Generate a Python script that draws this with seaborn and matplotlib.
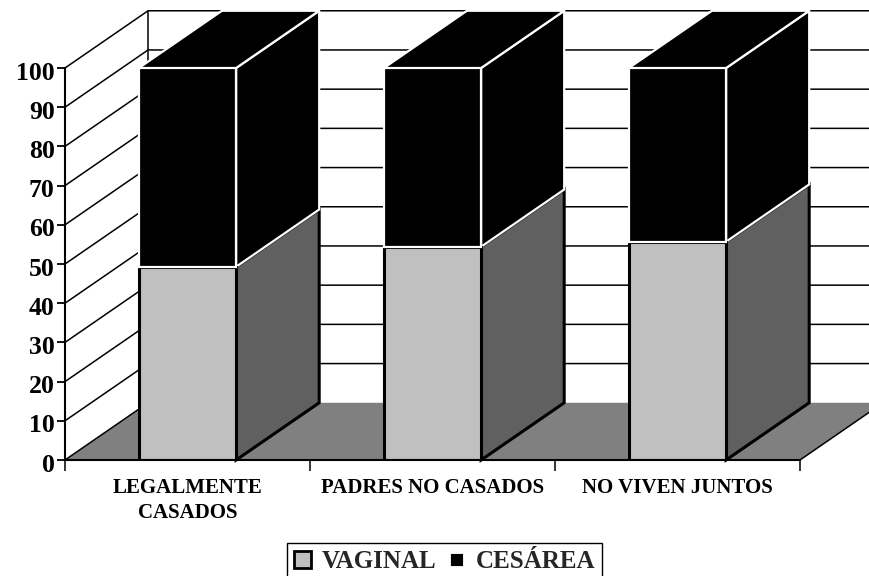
#! /usr/bin/python3

import pandas as pd
import matplotlib as mpl
mpl.use("Agg")
from matplotlib import pyplot as plt
from matplotlib.patches import Patch
from matplotlib.transforms import ScaledTranslation
import seaborn as sns

categories = ["LEGALMENTE\nCASADOS", "PADRES NO CASADOS", "NO VIVEN JUNTOS"]
vaginal = [49.3, 54.4, 55.7]
cesarea = [50.7, 45.6, 44.3]
y_ticks = [0, 10, 20, 30, 40, 50, 60, 70, 80, 90, 100]

# oblique depth of the fake 3D box, in data units
DX = 0.339
DY = 14.6
BAR_W = 0.397

GRAY_FLOOR = "#808080"
GRAY_SIDE = "#606060"
GRAY_FRONT = "#C0C0C0"

sns.set_theme(style="white")
plt.rcParams["font.family"] = ["Liberation Serif", "DejaVu Serif"]
plt.rcParams["font.weight"] = "bold"

W, H = 870, 576
fig = plt.figure(figsize=(W / 100, H / 100), dpi=100)
ax = fig.add_axes([65 / W, 1 - 460 / H, 735 / W, 392 / H])

df = pd.DataFrame({"cat": categories, "vaginal": vaginal, "cesarea": cesarea})

sns.barplot(data=df, x="cat", y="vaginal", color=GRAY_FRONT, saturation=1,
            width=BAR_W, edgecolor="black", linewidth=2.2, zorder=5, ax=ax)
sns.barplot(data=df, x="cat", y="cesarea", bottom=df["vaginal"], color="black", saturation=1,
            width=BAR_W, edgecolor="white", linewidth=1.6, zorder=5, ax=ax)

ax.set_xlim(-0.5, 2.5)
ax.set_ylim(0, 100)
ax.set_xlabel("")
ax.set_ylabel("")

# floor and back wall
ax.fill([-0.5, 2.5, 2.5 + DX, -0.5 + DX], [0, 0, DY, DY], color=GRAY_FLOOR, lw=0, zorder=1, clip_on=False)
ax.plot([2.5, 2.5 + DX], [0, DY], color="black", lw=1.1, zorder=1.5, clip_on=False)
ax.plot([-0.5 + DX, -0.5], [DY, 0], color="black", lw=1.1, zorder=1.5, clip_on=False)
ax.plot([-0.5 + DX, -0.5 + DX], [DY, 100 + DY], color="black", lw=1.1, zorder=1.5, clip_on=False)
for v in y_ticks[1:]:
    ax.plot([-0.5, -0.5 + DX, 2.5 + DX], [v, v + DY, v + DY], color="black", lw=1.1, zorder=1.5, clip_on=False)

# side and top faces of the bars
for i, (low, high) in enumerate(zip(vaginal, cesarea)):
    x1 = i + BAR_W / 2
    x0 = i - BAR_W / 2
    total = low + high
    ax.fill([x1, x1 + DX, x1 + DX, x1], [0, DY, low + DY, low], facecolor=GRAY_SIDE, edgecolor="black",
            lw=2.2, zorder=4, clip_on=False)
    ax.fill([x1, x1 + DX, x1 + DX, x1], [low, low + DY, total + DY, total], facecolor="black", edgecolor="white",
            lw=1.6, zorder=4.2, clip_on=False)
    ax.fill([x0, x1, x1 + DX, x0 + DX], [total, total, total + DY, total + DY], facecolor="black", edgecolor="white",
            lw=1.6, zorder=4.2, clip_on=False)

sns.despine(ax=ax)
for s in ("left", "bottom"):
    ax.spines[s].set_color("black")
    ax.spines[s].set_linewidth(1.5)
    ax.spines[s].set_zorder(6)

ax.set_yticks(y_ticks)
ax.set_yticklabels([str(v) for v in y_ticks], fontsize=18.5, fontweight="bold", color="black")
ax.tick_params(axis="y", left=True, length=6, width=1.3, color="black", pad=1.5)
# value labels sit a little below their ticks
shift = ScaledTranslation(0, -2.5 / 100, fig.dpi_scale_trans)
for label in ax.get_yticklabels():
    label.set_transform(label.get_transform() + shift)
ax.set_xticks([0, 1, 2])
ax.set_xticklabels(categories, fontsize=15, fontweight="bold", color="black", linespacing=1.36)
ax.set_xticks([-0.5, 0.5, 1.5, 2.5], minor=True)
ax.tick_params(axis="x", which="major", length=0, pad=13)
ax.tick_params(axis="x", which="minor", bottom=True, length=8, width=1.1, color="black")

handles = [Patch(facecolor=GRAY_FRONT, edgecolor="black", lw=2, label="VAGINAL"),
           Patch(facecolor="black", edgecolor="white", lw=3.5, label="CESÁREA")]
fig.legend(handles=handles, ncol=2, loc="lower left", bbox_to_anchor=(287 / W, -5 / H), borderaxespad=0,
           fontsize=18, frameon=True, fancybox=False, edgecolor="black", framealpha=1,
           handlelength=0.68, handleheight=0.68, handletextpad=0.42, columnspacing=0.45,
           borderpad=0.3)

fig.savefig("out.png", dpi=100)
plt.close()
